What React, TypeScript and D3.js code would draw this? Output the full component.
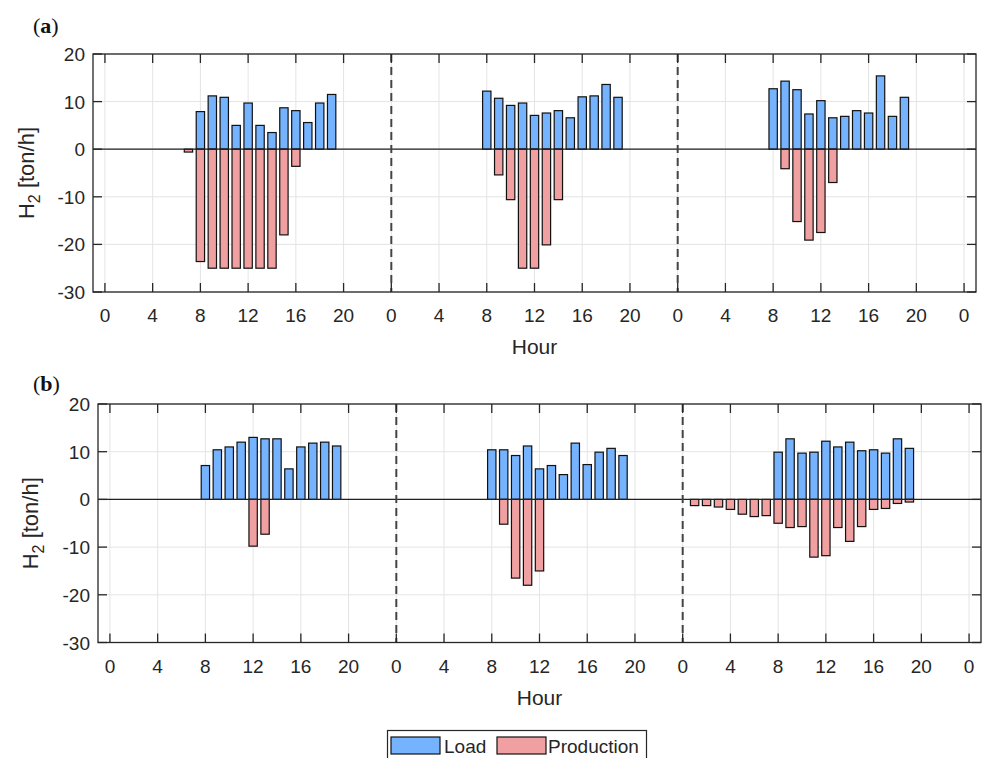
import * as d3 from 'd3';

// hourly values, 3 days x 24 h per series (ton/h)
const loadA = [
  0, 0, 0, 0, 0, 0, 0, 0, 7.9, 11.2, 10.9, 5.0, 9.7, 5.0, 3.5, 8.7, 8.1, 5.6, 9.7, 11.5, 0, 0, 0, 0,
  0, 0, 0, 0, 0, 0, 0, 0, 12.2, 10.7, 9.2, 9.7, 7.1, 7.6, 8.1, 6.6, 11.0, 11.2, 13.6, 10.9, 0, 0, 0, 0,
  0, 0, 0, 0, 0, 0, 0, 0, 12.7, 14.3, 12.5, 7.4, 10.2, 6.6, 6.9, 8.1, 7.6, 15.4, 6.9, 10.9, 0, 0, 0, 0,
];
const prodA = [
  0, 0, 0, 0, 0, 0, 0, -0.6, -23.6, -25, -25, -25, -25, -25, -25, -18, -3.6, 0, 0, 0, 0, 0, 0, 0,
  0, 0, 0, 0, 0, 0, 0, 0, 0, -5.4, -10.6, -25, -25, -20.1, -10.6, 0, 0, 0, 0, 0, 0, 0, 0, 0,
  0, 0, 0, 0, 0, 0, 0, 0, 0, -4.1, -15.2, -19.1, -17.5, -7.0, 0, 0, 0, 0, 0, 0, 0, 0, 0, 0,
];
const loadB = [
  0, 0, 0, 0, 0, 0, 0, 0, 7.1, 10.4, 11.0, 12.0, 13.0, 12.7, 12.7, 6.4, 11.0, 11.8, 12.0, 11.2, 0, 0, 0, 0,
  0, 0, 0, 0, 0, 0, 0, 0, 10.4, 10.4, 9.2, 11.2, 6.4, 7.1, 5.2, 11.8, 7.3, 9.9, 10.7, 9.2, 0, 0, 0, 0,
  0, 0, 0, 0, 0, 0, 0, 0, 9.9, 12.7, 9.7, 9.9, 12.2, 11.0, 12.0, 10.2, 10.4, 9.7, 12.7, 10.7, 0, 0, 0, 0,
];
const prodB = [
  0, 0, 0, 0, 0, 0, 0, 0, 0, 0, 0, 0, -9.8, -7.3, 0, 0, 0, 0, 0, 0, 0, 0, 0, 0,
  0, 0, 0, 0, 0, 0, 0, 0, 0, -5.2, -16.5, -18.0, -15.0, 0, 0, 0, 0, 0, 0, 0, 0, 0, 0, 0,
  0, -1.3, -1.3, -1.6, -2.1, -3.1, -3.6, -3.4, -5.0, -5.9, -5.7, -12.1, -11.8, -5.9, -8.8, -5.7, -2.1, -1.9, -0.85, -0.55, 0, 0, 0, 0,
];

const xTicks = d3.range(0, 73, 4);
const yTicks = [-30, -20, -10, 0, 10, 20];
const dayBreaks = [24, 48];
const seriesNames = ['Load', 'Production'];

const BLUE = '#75b3ff';
const RED = '#f0a0a0';
const AX = '#262626';
const FONT = '"Liberation Sans", Arial, sans-serif';

function Panel({ load, prod, left, right, top, bottom, tag, tagX, tagY, ylabX }: any) {
  const x = d3.scaleLinear().domain([-1, 73]).range([left, right]);
  const y = d3.scaleLinear().domain([-30, 20]).range([bottom, top]);
  const bw = (x(1) - x(0)) * 0.7;
  const tl = 9;

  const bars = (vals: number[], fill: string) =>
    vals.map((v, i) =>
      v === 0 ? null : (
        <rect key={fill + i} x={x(i) - bw / 2} y={y(Math.max(0, v))} width={bw}
          height={Math.abs(y(v) - y(0))} fill={fill} stroke="#111" strokeWidth={1.2} />
      ));

  return (
    <g>
      {/* grid */}
      {xTicks.map(t => (
        <line key={'gx' + t} x1={x(t)} x2={x(t)} y1={top} y2={bottom} stroke="#e4e4e4" />
      ))}
      {yTicks.map(t => (
        <line key={'gy' + t} x1={left} x2={right} y1={y(t)} y2={y(t)} stroke="#e4e4e4" />
      ))}
      {bars(load, BLUE)}
      {bars(prod, RED)}
      <line x1={left} x2={right} y1={y(0)} y2={y(0)} stroke="#222" strokeWidth={1.2} />
      {dayBreaks.map(d => (
        <line key={'d' + d} x1={x(d)} x2={x(d)} y1={top} y2={bottom} stroke="#444"
          strokeWidth={2} strokeDasharray="8,5" />
      ))}
      {/* box + ticks */}
      <rect x={left} y={top} width={right - left} height={bottom - top} fill="none" stroke={AX} strokeWidth={1.3} />
      {xTicks.map(t => (
        <g key={'tx' + t}>
          <line x1={x(t)} x2={x(t)} y1={bottom} y2={bottom - tl} stroke={AX} strokeWidth={1.3} />
          <line x1={x(t)} x2={x(t)} y1={top} y2={top + tl} stroke={AX} strokeWidth={1.3} />
          <text x={x(t)} y={bottom + 30} textAnchor="middle" fontSize={19} fill={AX} fontFamily={FONT}>
            {t % 24}
          </text>
        </g>
      ))}
      {yTicks.map(t => (
        <g key={'ty' + t}>
          <line x1={left} x2={left + tl} y1={y(t)} y2={y(t)} stroke={AX} strokeWidth={1.3} />
          <line x1={right} x2={right - tl} y1={y(t)} y2={y(t)} stroke={AX} strokeWidth={1.3} />
          <text x={left - 8} y={y(t) + 7} textAnchor="end" fontSize={19} fill={AX} fontFamily={FONT}>
            {t}
          </text>
        </g>
      ))}
      <text x={(left + right) / 2} y={bottom + 62} textAnchor="middle" fontSize={21} fill={AX} fontFamily={FONT}>
        Hour
      </text>
      <text transform={`translate(${ylabX},${(top + bottom) / 2}) rotate(-90)`} textAnchor="middle"
        fontSize={22} fill={AX} fontFamily={FONT}>
        H<tspan fontSize={16} dy={6}>2</tspan><tspan dy={-6}> [ton/h]</tspan>
      </text>
      <text x={tagX} y={tagY} fontSize={22} fontFamily='"Liberation Serif", serif' fill="#111">
        (<tspan fontWeight="bold">{tag}</tspan>)
      </text>
    </g>
  );
}

export default function App() {
  return (
    <svg width={982} height={758} style={{ position: 'absolute', left: 0, top: 0, background: '#fff' }}>
      <rect width={982} height={758} fill="#fff" />
      <Panel load={loadA} prod={prodA} left={93} right={976} top={54} bottom={292}
        tag="a" tagX={33} tagY={33} ylabX={34} />
      <Panel load={loadB} prod={prodB} left={98} right={981} top={404} bottom={642.5}
        tag="b" tagX={33} tagY={391} ylabX={38} />
      {/* legend */}
      <g fontFamily={FONT} fontSize={19} fill={AX}>
        <rect x={387.5} y={730.5} width={259} height={34} fill="#fff" stroke={AX} strokeWidth={1.2} />
        <rect x={391} y={737} width={49} height={17} fill={BLUE} stroke="#111" strokeWidth={1.2} />
        <text x={444} y={753}>{seriesNames[0]}</text>
        <rect x={497} y={737} width={49} height={17} fill={RED} stroke="#111" strokeWidth={1.2} />
        <text x={548} y={753}>{seriesNames[1]}</text>
      </g>
    </svg>
  );
}
